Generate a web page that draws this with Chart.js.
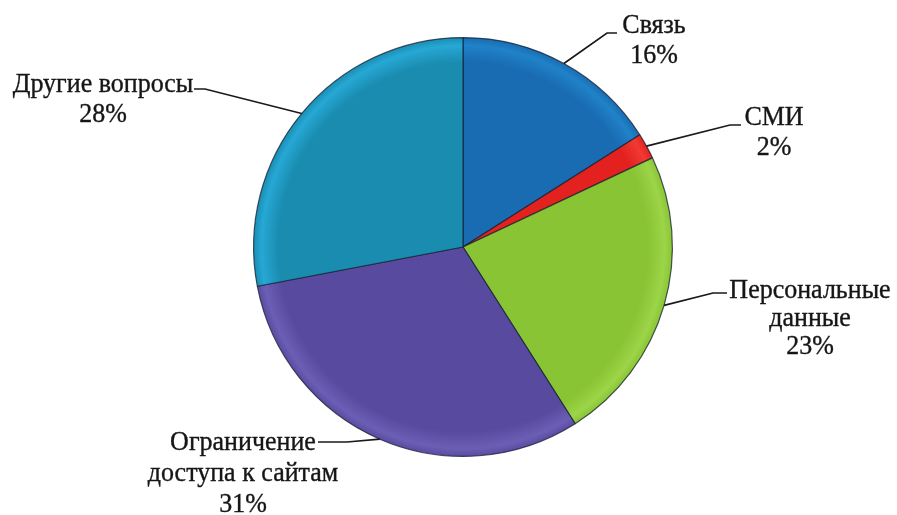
<!DOCTYPE html>
<html>
<head>
<meta charset="utf-8">
<script src="https://cdn.jsdelivr.net/npm/chart.js@4"></script>
<style>
  html, body { margin: 0; padding: 0; background: #fff; }
  #wrap { width: 897px; height: 515px; position: relative; }
</style>
</head>
<body>
<div id="wrap"><canvas id="c" width="897" height="515"></canvas></div>
<script>
// ---- data ----
const categories = [
  ['Связь'],
  ['СМИ'],
  ['Персональные', 'данные'],
  ['Ограничение', 'доступа к сайтам'],
  ['Другие вопросы']
];
const values = [16, 2, 23, 31, 28];

// ---- styles ----
const baseColors = ['#196bb2', '#e3221f', '#88c434', '#584a9e', '#1a8cb0'];
const rimColors  = ['#2082c8', '#f03a33', '#9cd548', '#6b5eb5', '#26a8d5'];

// label placement: elbow point, end of horizontal tick, text center x, first baseline, line step
const labelLayout = [
  { elbow: [607, 33],  end: [617, 33],  tx: 654, ty: 33,  step: 30 },
  { elbow: [730, 125], end: [741, 125], tx: 774, ty: 125, step: 30 },
  { elbow: [713, 293], end: [727, 293], tx: 810, ty: 298, step: 28 },
  { elbow: [347, 442], end: [318, 442], tx: 243, ty: 450, step: 31 },
  { elbow: [205, 89],  end: [194, 89],  tx: 103, ty: 92,  step: 30 }
];

function sliceFill(ctx) {
  const chart = ctx.chart;
  const i = ctx.dataIndex;
  if (!chart.chartArea) return baseColors[i];
  const cx = (chart.chartArea.left + chart.chartArea.right) / 2;
  const cy = (chart.chartArea.top + chart.chartArea.bottom) / 2;
  const R = Math.min(chart.chartArea.width, chart.chartArea.height) / 2;
  const g = chart.ctx.createRadialGradient(cx, cy, 0, cx, cy, R);
  g.addColorStop(0, baseColors[i]);
  g.addColorStop(0.88, baseColors[i]);
  g.addColorStop(0.96, rimColors[i]);
  g.addColorStop(1, baseColors[i]);
  return g;
}

const labelPlugin = {
  id: 'leaderLabels',
  afterDatasetsDraw(chart) {
    const ctx = chart.ctx;
    const meta = chart.getDatasetMeta(0);
    ctx.save();
    meta.data.forEach((arc, i) => {
      const p = arc.getProps(['x', 'y', 'startAngle', 'endAngle', 'outerRadius'], true);
      const mid = (p.startAngle + p.endAngle) / 2;
      const sx = p.x + Math.cos(mid) * p.outerRadius;
      const sy = p.y + Math.sin(mid) * p.outerRadius;
      const L = labelLayout[i];
      ctx.strokeStyle = '#1a1a1a';
      ctx.lineWidth = 1.7;
      ctx.beginPath();
      ctx.moveTo(sx, sy);
      ctx.lineTo(L.elbow[0], L.elbow[1]);
      ctx.lineTo(L.end[0], L.end[1]);
      ctx.stroke();

      ctx.fillStyle = '#161616';
      ctx.strokeStyle = '#161616';
      ctx.lineWidth = 0.35;
      ctx.font = '26px "Liberation Serif", "Times New Roman", serif';
      ctx.textAlign = 'center';
      ctx.textBaseline = 'alphabetic';
      const lines = categories[i].concat([values[i] + '%']);
      lines.forEach((t, k) => {
        const by = L.ty + k * L.step;
        ctx.save();
        ctx.translate(L.tx, by);
        ctx.scale(1, 1.08);
        ctx.fillText(t, 0, 0);
        ctx.strokeText(t, 0, 0);
        ctx.restore();
      });
    });
    ctx.restore();
  }
};

new Chart(document.getElementById('c'), {
  type: 'pie',
  data: {
    labels: categories.map(c => c.join(' ')),
    datasets: [{
      data: values,
      backgroundColor: sliceFill,
      borderColor: 'rgba(20,30,50,0.75)',
      borderWidth: 1.2,
      hoverOffset: 0,
      offset: 0
    }]
  },
  options: {
    responsive: false,
    animation: false,
    layout: { padding: { top: 37, bottom: 58, left: 253, right: 224 } },
    plugins: {
      legend: { display: false },
      tooltip: { enabled: false }
    }
  },
  plugins: [labelPlugin]
});
</script>
</body>
</html>
